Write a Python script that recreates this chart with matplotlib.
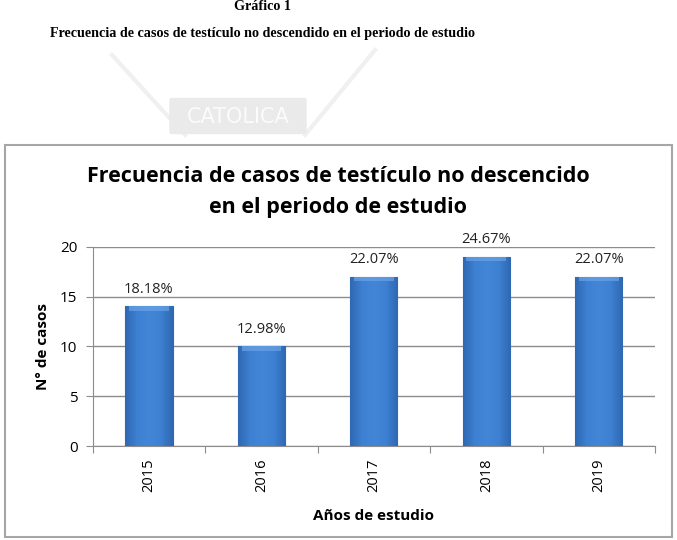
import numpy as np
import matplotlib.pyplot as plt
from matplotlib.patches import Rectangle, FancyBboxPatch
from matplotlib.lines import Line2D
from matplotlib.colors import LinearSegmentedColormap

# data
years = ["2015", "2016", "2017", "2018", "2019"]
casos = [14, 10, 17, 19, 17]
porcentajes = ["18.18%", "12.98%", "22.07%", "24.67%", "22.07%"]
y_ticks = [0, 5, 10, 15, 20]

W, H = 677, 540
fig = plt.figure(figsize=(W / 100, H / 100), dpi=100)


def fx(px):
    return px / W


def fy(py):
    return 1 - py / H


# page heading (serif, as in the document)
fig.text(fx(262), fy(6), "Gráfico 1", ha="center", va="center",
         family="Liberation Serif", weight="bold", fontsize=10.2)
fig.text(fx(262), fy(33),
         "Frecuencia de casos de testículo no descendido en el periodo de estudio",
         ha="center", va="center", family="Liberation Serif", weight="bold",
         fontsize=10.2)

# faint watermark of the university logo
wm = "#f0f0f0"
fig.add_artist(Line2D([fx(112), fx(185)], [fy(55), fy(135)], color=wm, lw=3,
                      transform=fig.transFigure, zorder=0))
fig.add_artist(Line2D([fx(375), fx(305)], [fy(50), fy(135)], color=wm, lw=3,
                      transform=fig.transFigure, zorder=0))
fig.add_artist(FancyBboxPatch((fx(172), fy(132)), fx(132), fy(100) - fy(132),
                              boxstyle="round,pad=0.004", fc="#eaeaea", ec="none",
                              transform=fig.transFigure, zorder=0))
fig.text(fx(238), fy(117), "CATOLICA", ha="center", va="center", color="#fbfbfb",
         family="DejaVu Sans", fontsize=15, zorder=1)

# chart frame
fig.add_artist(Rectangle((fx(5), fy(537)), fx(667), fy(145) - fy(537),
                         fill=False, ec="#a6a6a6", lw=1.5,
                         transform=fig.transFigure, zorder=2))

ax = fig.add_axes([fx(92.7), fy(446), fx(655) - fx(92.7), fy(246.7) - fy(446)])
x = np.arange(len(years))
bars = ax.bar(x, casos, width=0.42, color="#3b7bcc", edgecolor="#2f66ad",
              linewidth=0.8, zorder=3)

# horizontal shading across each bar, like the bevelled Excel bars
shade = LinearSegmentedColormap.from_list(
    "bevel", ["#2f68b3", "#3e80d2", "#4386d6", "#3e80d2", "#2f68b3"])
grad = np.linspace(0, 1, 64).reshape(1, -1)
for b in bars:
    x0, w, h = b.get_x(), b.get_width(), b.get_height()
    im = ax.imshow(grad, cmap=shade, aspect="auto", extent=[x0, x0 + w, 0, h],
                   zorder=3.5)
    im.set_clip_path(b)
    ax.add_patch(Rectangle((x0 + w * 0.08, h - 0.45), w * 0.84, 0.45,
                           fc="#6aa3e6", ec="none", alpha=0.7, zorder=3.6))

for b, lab in zip(bars, porcentajes):
    ax.annotate(lab, (b.get_x() + b.get_width() / 2, b.get_height()),
                xytext=(0, 7), textcoords="offset points", ha="center",
                va="bottom", family="Open Sans", fontsize=10.5, color="#222222")

ax.set_xlim(-0.5, len(years) - 0.5)
ax.set_ylim(0, 20)
ax.set_yticks(y_ticks)
ax.set_yticklabels([str(v) for v in y_ticks], family="Open Sans", fontsize=11)
ax.set_xticks(np.arange(-0.5, len(years), 1.0))
ax.set_xticklabels([])
ax.set_xticks(x, minor=True)
ax.set_xticklabels(years, minor=True, rotation=90, family="Open Sans", fontsize=10.5)
ax.tick_params(axis="x", which="minor", length=0, pad=9)
ax.tick_params(axis="x", which="major", length=5, color="#8c8c8c")
ax.tick_params(axis="y", length=5, color="#8c8c8c", pad=6)
ax.grid(axis="y", color="#8c8c8c", lw=1, zorder=0)
ax.set_axisbelow(True)
for s in ["top", "right"]:
    ax.spines[s].set_visible(False)
for s in ["left", "bottom"]:
    ax.spines[s].set_color("#8c8c8c")

ax.set_ylabel("N° de casos", family="Open Sans", weight="bold", fontsize=11,
              labelpad=7)
ax.set_xlabel("Años de estudio", family="Open Sans", weight="bold", fontsize=11,
              labelpad=12)

fig.text(fx(338), fy(177), "Frecuencia de casos de testículo no descencido",
         ha="center", va="center", family="Open Sans", weight="bold", fontsize=15.5)
fig.text(fx(338), fy(208), "en el periodo de estudio",
         ha="center", va="center", family="Open Sans", weight="bold", fontsize=15.5)

fig.savefig("out.png", dpi=100)
